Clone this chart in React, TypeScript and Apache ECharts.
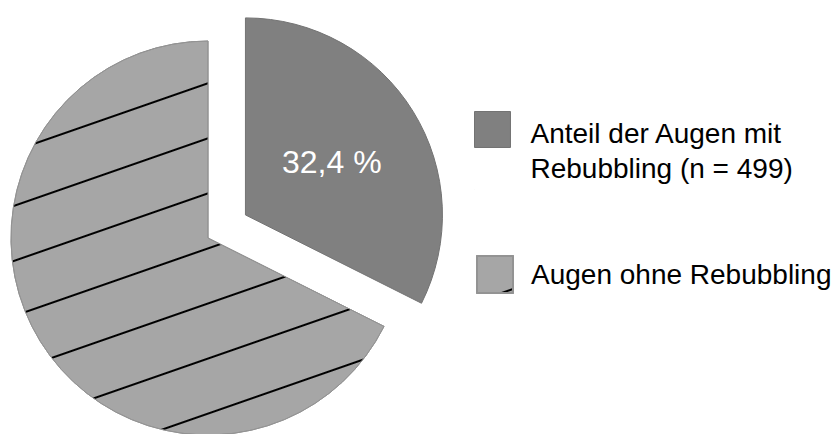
import React, { useEffect, useRef } from "react";
import * as echarts from "echarts";

const categories = ["Anteil der Augen mit\nRebubbling (n = 499)", "Augen ohne Rebubbling"];
const values = [499, 1041];
const colors = ["#808080", "#a6a6a6"];

const FONT = "'Liberation Sans', Arial, sans-serif";

export default function App() {
  const ref = useRef<HTMLDivElement>(null);
  useEffect(() => {
    if (!ref.current) return;
    const chart = echarts.init(ref.current, undefined, { renderer: "svg" });
    const hatch = {
      symbol: "rect",
      symbolSize: 1,
      color: "#000000",
      dashArrayX: [1, 0],
      dashArrayY: [0, 42, 2, 8],
      rotation: -0.335,
    };
    chart.setOption({
      animation: false,
      backgroundColor: "#ffffff",
      legend: [
        {
          data: [categories[0]],
          left: 474,
          top: 111,
          orient: "vertical",
          padding: 0,
          itemWidth: 36,
          itemHeight: 78,
          selectedMode: false,
          icon: "path://M0,0H36V36H0Z M0,78H0.01V78.01H0Z",
          itemStyle: { borderColor: "#737373", borderWidth: 1 },
          textStyle: {
            fontSize: 28,
            lineHeight: 35,
            color: "#000",
            fontFamily: FONT,
            padding: [0, 0, 0, 15],
          },
        },
        {
          data: [categories[1]],
          left: 476,
          top: 255,
          orient: "vertical",
          padding: 0,
          itemWidth: 36,
          itemHeight: 37,
          selectedMode: false,
          icon: "rect",
          textStyle: {
            fontSize: 28,
            lineHeight: 35,
            color: "#000",
            fontFamily: FONT,
            padding: [0, 0, 0, 13],
          },
        },
      ],
      series: [
        {
          type: "pie",
          center: [208, 238],
          radius: 197,
          startAngle: 90,
          clockwise: true,
          selectedMode: "single",
          selectedOffset: 44,
          emphasis: { disabled: true },
          labelLine: { show: false },
          data: [
            {
              name: categories[0],
              value: values[0],
              selected: true,
              itemStyle: { color: colors[0], borderColor: "#737373", borderWidth: 1 },
              label: {
                show: true,
                position: "inside",
                color: "#ffffff",
                fontSize: 32,
                fontFamily: FONT,
                formatter: (p: any) => p.percent.toFixed(1).replace(".", ",") + " %",
                offset: [4, -2],
              },
            },
            {
              name: categories[1],
              value: values[1],
              itemStyle: { color: colors[1], borderColor: "#939393", borderWidth: 1, decal: hatch },
              label: { show: false },
            },
          ],
        },
      ],
    });
    return () => chart.dispose();
  }, []);
  return (
    <div
      ref={ref}
      style={{ position: "absolute", left: 0, top: 0, width: 840, height: 434 }}
    />
  );
}
